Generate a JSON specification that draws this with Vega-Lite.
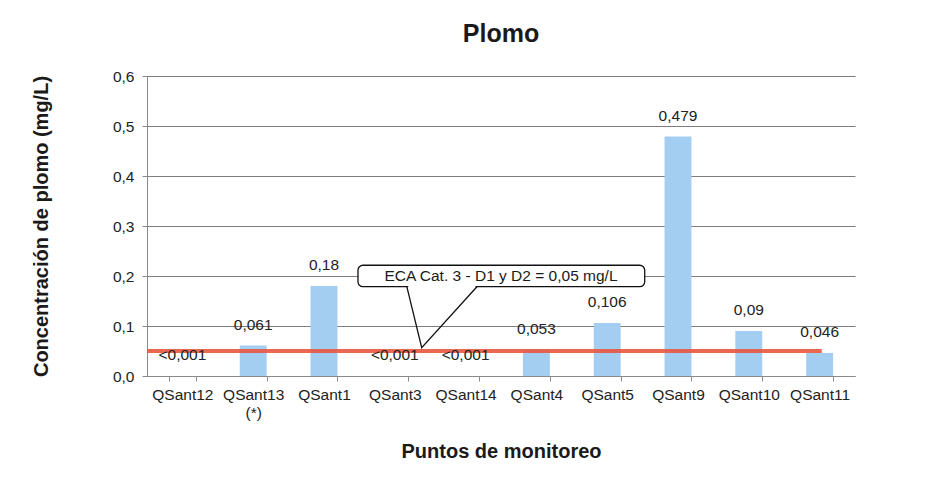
{
  "$schema": "https://vega.github.io/schema/vega-lite/v6.json",
  "width": 708,
  "height": 300,
  "autosize": {"type": "none"},
  "padding": {"left": 147, "top": 76, "right": 90, "bottom": 101},
  "background": "white",
  "config": {
    "font": "Liberation Sans",
    "view": {"stroke": null},
    "axis": {"labelFont": "Liberation Sans", "titleFont": "Liberation Sans"}
  },
  "title": {
    "text": "Plomo",
    "fontSize": 25,
    "fontWeight": "bold",
    "color": "#1a1a1a",
    "anchor": "middle",
    "baseline": "alphabetic",
    "offset": 2
  },
  "datasets": {
    "bars": [
      {"p": "QSant12", "v": 0, "label": "<0,001"},
      {"p": "QSant13 (*)", "v": 0.061, "label": "0,061"},
      {"p": "QSant1", "v": 0.18, "label": "0,18"},
      {"p": "QSant3", "v": 0, "label": "<0,001"},
      {"p": "QSant14", "v": 0, "label": "<0,001"},
      {"p": "QSant4", "v": 0.053, "label": "0,053"},
      {"p": "QSant5", "v": 0.106, "label": "0,106"},
      {"p": "QSant9", "v": 0.479, "label": "0,479"},
      {"p": "QSant10", "v": 0.09, "label": "0,09"},
      {"p": "QSant11", "v": 0.046, "label": "0,046"}
    ],
    "limit": [{"x": 0, "x2": 9.53, "y": 0.05}],
    "box": [{"x": 2.98, "x2": 7.03, "y": 0.2215, "y2": 0.1786, "tx": 5.0, "ty": 0.1995, "text": "ECA Cat. 3 - D1 y D2 = 0,05 mg/L"}],
    "pointer": [
      {"x": 3.67, "top": 0.1786, "y": 0.1786, "o": 1},
      {"x": 3.88, "top": 0.1786, "y": 0.0566, "o": 2},
      {"x": 4.66, "top": 0.1786, "y": 0.1786, "o": 3}
    ],
    "gap": [{"x": 3.69, "x2": 4.64, "y": 0.1786}]
  },
  "resolve": {"scale": {"x": "independent"}},
  "layer": [
    {
      "data": {"name": "bars"},
      "mark": {"type": "bar", "color": "#a3cdf1"},
      "encoding": {
        "x": {
          "field": "p",
          "type": "nominal",
          "sort": null,
          "scale": {"paddingInner": 0.62, "paddingOuter": 0.31},
          "axis": {
            "title": "Puntos de monitoreo",
            "titleFontSize": 20,
            "titleFontWeight": "bold",
            "titleColor": "#1a1a1a",
            "titlePadding": 21,
            "labelAngle": 0,
            "labelFontSize": 15.5,
            "labelColor": "#222222",
            "labelPadding": 6,
            "labelLineHeight": 18,
            "labelExpr": "datum.value == 'QSant13 (*)' ? ['QSant13', '(*)'] : datum.value",
            "tickBand": "extent",
            "tickSize": 5,
            "tickColor": "#8a8a8a",
            "domainColor": "#8a8a8a",
            "grid": false
          }
        },
        "y": {
          "field": "v",
          "type": "quantitative",
          "scale": {"domain": [0, 0.6], "nice": false},
          "axis": {
            "title": "Concentración de plomo (mg/L)",
            "titleFontSize": 20,
            "titleFontWeight": "bold",
            "titleColor": "#1a1a1a",
            "titlePadding": 61,
            "values": [0, 0.1, 0.2, 0.3, 0.4, 0.5, 0.6],
            "labelExpr": "replace(format(datum.value, '.1f'), '.', ',')",
            "labelFontSize": 15.5,
            "labelColor": "#222222",
            "labelPadding": 8,
            "tickSize": 5,
            "tickColor": "#8a8a8a",
            "domainColor": "#8a8a8a",
            "grid": true,
            "gridColor": "#7d7d7d",
            "gridWidth": 1
          }
        }
      }
    },
    {
      "data": {"name": "limit"},
      "mark": {"type": "rule", "color": "#e9563f", "strokeWidth": 4, "opacity": 0.9},
      "encoding": {
        "x": {"field": "x", "type": "quantitative", "scale": {"domain": [0, 10], "nice": false, "zero": false}, "axis": null},
        "x2": {"field": "x2"},
        "y": {"field": "y", "type": "quantitative"}
      }
    },
    {
      "data": {"name": "box"},
      "mark": {"type": "rect", "fill": "white", "stroke": "#111111", "strokeWidth": 1.3, "cornerRadius": 5},
      "encoding": {
        "x": {"field": "x", "type": "quantitative", "scale": {"domain": [0, 10], "nice": false, "zero": false}, "axis": null},
        "x2": {"field": "x2"},
        "y": {"field": "y", "type": "quantitative"},
        "y2": {"field": "y2"}
      }
    },
    {
      "data": {"name": "pointer"},
      "mark": {"type": "area", "color": "white", "orient": "vertical", "opacity": 1},
      "encoding": {
        "x": {"field": "x", "type": "quantitative", "scale": {"domain": [0, 10], "nice": false, "zero": false}, "axis": null},
        "y": {"field": "top", "type": "quantitative"},
        "y2": {"field": "y"},
        "order": {"field": "o"}
      }
    },
    {
      "data": {"name": "gap"},
      "mark": {"type": "rule", "color": "white", "strokeWidth": 2.5},
      "encoding": {
        "x": {"field": "x", "type": "quantitative", "scale": {"domain": [0, 10], "nice": false, "zero": false}, "axis": null},
        "x2": {"field": "x2"},
        "y": {"field": "y", "type": "quantitative"}
      }
    },
    {
      "data": {"name": "pointer"},
      "mark": {"type": "line", "color": "#111111", "strokeWidth": 1.3},
      "encoding": {
        "x": {"field": "x", "type": "quantitative", "scale": {"domain": [0, 10], "nice": false, "zero": false}, "axis": null},
        "y": {"field": "y", "type": "quantitative"},
        "order": {"field": "o"}
      }
    },
    {
      "data": {"name": "box"},
      "mark": {"type": "text", "fontSize": 15.5, "color": "#1a1a1a", "align": "center", "baseline": "middle"},
      "encoding": {
        "x": {"field": "tx", "type": "quantitative", "scale": {"domain": [0, 10], "nice": false, "zero": false}, "axis": null},
        "y": {"field": "ty", "type": "quantitative"},
        "text": {"field": "text"}
      }
    },
    {
      "data": {"name": "bars"},
      "mark": {"type": "text", "fontSize": 15.5, "color": "#222222", "align": "center", "baseline": "middle", "dy": -21},
      "encoding": {
        "x": {"field": "p", "type": "nominal", "sort": null, "scale": {"paddingInner": 0.62, "paddingOuter": 0.31}, "axis": null},
        "y": {"field": "v", "type": "quantitative"},
        "text": {"field": "label"}
      }
    }
  ]
}
